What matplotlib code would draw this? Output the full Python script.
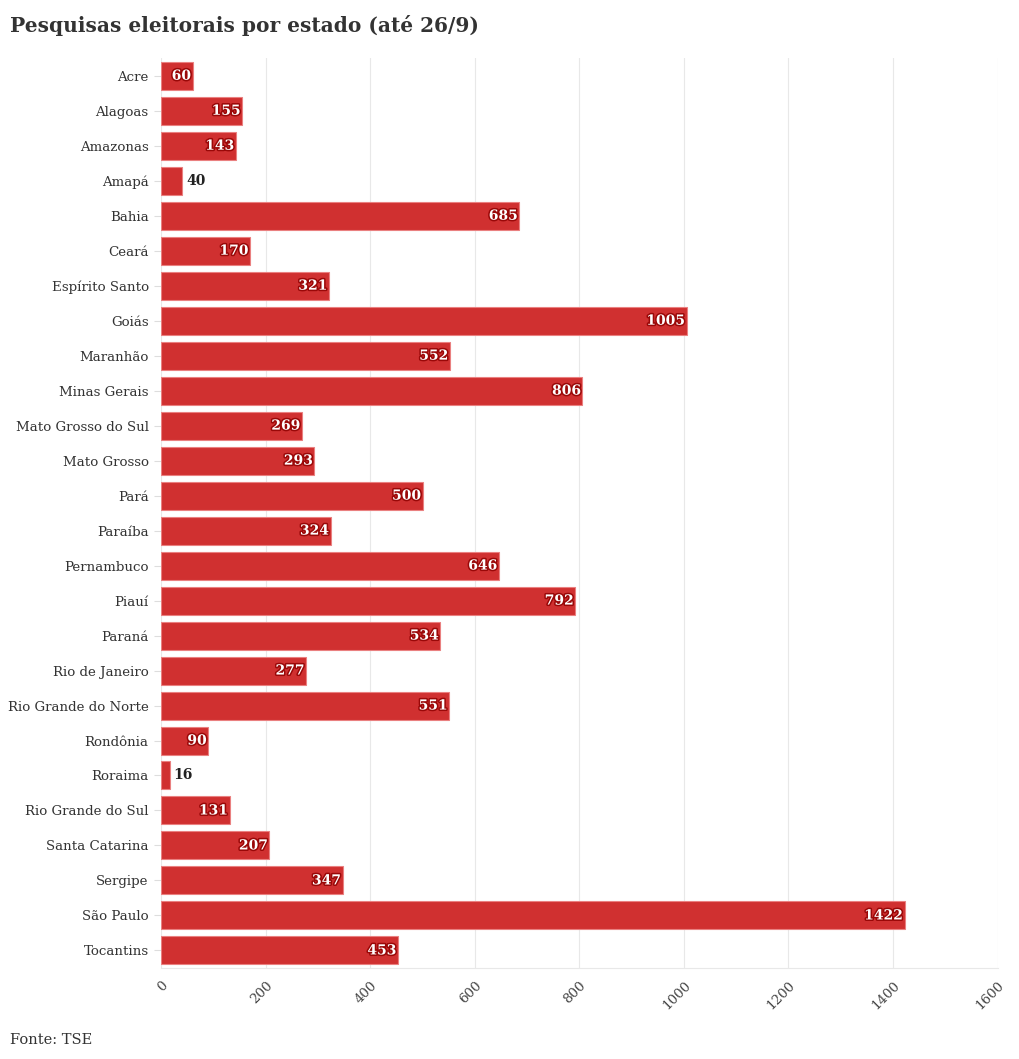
import numpy as np
import matplotlib.pyplot as plt
import matplotlib.patheffects as pe
from matplotlib import rcParams

rcParams['font.family'] = 'DejaVu Serif'

states = ['Acre', 'Alagoas', 'Amazonas', 'Amapá', 'Bahia', 'Ceará', 'Espírito Santo',
          'Goiás', 'Maranhão', 'Minas Gerais', 'Mato Grosso do Sul', 'Mato Grosso',
          'Pará', 'Paraíba', 'Pernambuco', 'Piauí', 'Paraná', 'Rio de Janeiro',
          'Rio Grande do Norte', 'Rondônia', 'Roraima', 'Rio Grande do Sul',
          'Santa Catarina', 'Sergipe', 'São Paulo', 'Tocantins']
polls = [60, 155, 143, 40, 685, 170, 321, 1005, 552, 806, 269, 293, 500, 324,
         646, 792, 534, 277, 551, 90, 16, 131, 207, 347, 1422, 453]
xticks = [0, 200, 400, 600, 800, 1000, 1200, 1400, 1600]

fig = plt.figure(figsize=(10.2, 10.59), dpi=100)
ax = fig.add_axes([0.158, 0.086, 0.82, 0.859])

y = np.arange(len(states))
ax.barh(y, polls, height=0.8, color='#d03030', edgecolor='#ea8080', linewidth=0.8, zorder=3)

outline = [pe.withStroke(linewidth=2.2, foreground='#9a0808')]
for yi, v in zip(y, polls):
    if v >= 50:
        ax.text(v - 3, yi, str(v), ha='right', va='center', color='white',
                fontsize=10, fontweight='bold', path_effects=outline, zorder=4)
    else:
        ax.text(v + 8, yi, str(v), ha='left', va='center', color='#222222',
                fontsize=10, fontweight='bold', zorder=4)

ax.set_yticks(y)
ax.set_yticklabels(states, fontsize=9.6, color='#333333')
ax.set_ylim(len(states) - 0.5, -0.5)
ax.set_xlim(0, 1600)
ax.set_xticks(xticks)
ax.set_xticklabels([str(t) for t in xticks], rotation=45, fontsize=9.6, color='#444444',
                   ha='right', va='top', rotation_mode='anchor')
ax.tick_params(axis='y', length=5, color='#dddddd', pad=4)
ax.tick_params(axis='x', length=0, pad=8)
ax.grid(axis='x', color='#e8e8e8', linewidth=0.8, zorder=0)
for s in ['top', 'right', 'left']:
    ax.spines[s].set_visible(False)
ax.spines['bottom'].set_color('#e8e8e8')

fig.text(0.010, 0.976, 'Pesquisas eleitorais por estado (até 26/9)', fontsize=14.5,
         fontweight='bold', color='#333333', ha='left', va='center')
fig.text(0.010, 0.018, 'Fonte: TSE', fontsize=10.5, color='#333333', ha='left', va='center')

plt.savefig('out.png', dpi=100)
